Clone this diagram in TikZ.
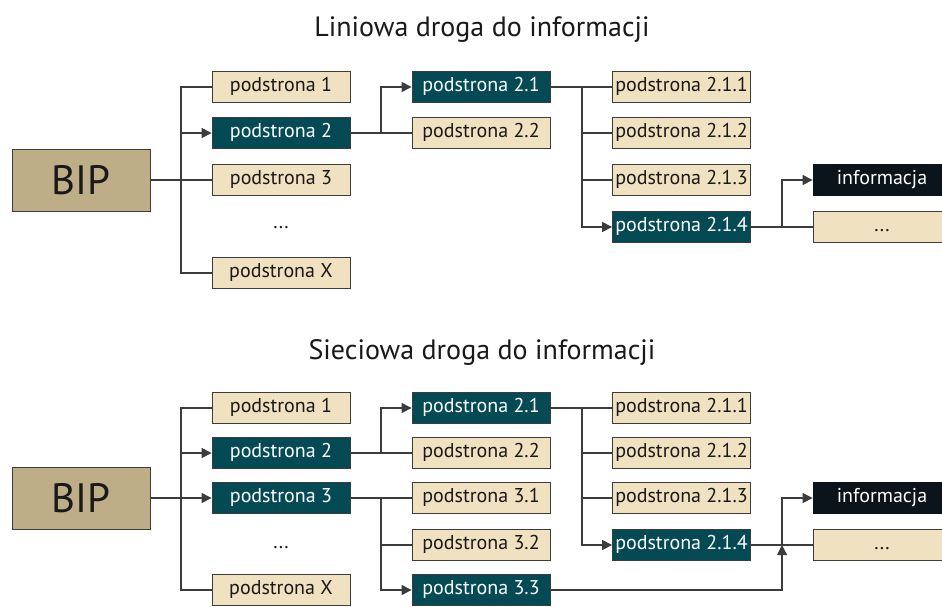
\documentclass[tikz,border=0pt]{standalone}
\usepackage{fontspec}
\setmainfont{PT Sans}
\usepackage{tikz}
\usetikzlibrary{arrows.meta,positioning,calc}
\definecolor{bipTan}{HTML}{BDAE87}
\definecolor{pageBeige}{HTML}{F0E1C0}
\definecolor{pageTeal}{HTML}{044A55}
\definecolor{infoBlack}{HTML}{0B131B}
\definecolor{lineGray}{HTML}{3C3C3C}

\begin{document}
\begin{tikzpicture}[x=1pt,y=-1pt,
  page/.style={draw=lineGray,line width=0.8pt,fill=pageBeige,text=black!90,
               minimum width=138pt,minimum height=31pt,inner sep=0pt,
               font=\fontsize{20}{22}\selectfont,text height=13.5pt,text depth=4pt},
  hub/.style={page,fill=pageTeal,text=white},
  info/.style={page,fill=infoBlack,draw=infoBlack,text=white},
  root/.style={draw=lineGray,line width=0.8pt,fill=bipTan,text=black!90,
               minimum width=138pt,minimum height=62pt,inner sep=0pt,
               font=\fontsize{41}{44}\selectfont},
  ttl/.style={font=\fontsize{28}{32}\selectfont,text=black!90},
  dots/.style={font=\fontsize{20}{22}\selectfont,text=black!90,text height=13.5pt,text depth=4pt},
  conn/.style={draw=lineGray,line width=1.1pt},
  arr/.style={conn,-{Triangle[length=10pt,width=10pt]}}]
\useasboundingbox (0,0) rectangle (942,606);

% --- liniowa ---
\node[ttl] (t1) at (482,30) {Liniowa droga do informacji};
\node[root] (bip) at (81,180) {BIP};
\node[page] (p1) at (281,87) {podstrona 1};
\node[hub]  (p2) at (281,133) {podstrona 2};
\node[page] (p3) at (281,180) {podstrona 3};
\node[dots] (pd) at (281,224) {...};
\node[page] (pX) at (281,273) {podstrona X};
\node[hub]  (q21) at (481,87) {podstrona 2.1};
\node[page] (q22) at (481,133) {podstrona 2.2};
\node[page] (r1) at (681.5,87) {podstrona 2.1.1};
\node[page] (r2) at (681.5,133) {podstrona 2.1.2};
\node[page] (r3) at (681.5,180) {podstrona 2.1.3};
\node[hub]  (r4) at (681.5,227) {podstrona 2.1.4};
\node[info] (inf) at (882,180) {informacja};
\node[page] (more) at (882,227) {...};
\coordinate (s1) at (181,180);
\coordinate (s2) at (381,133);
\coordinate (s3) at (582,87);
\coordinate (s4) at (782,227);

\draw[conn] (bip.east) -- (p3.west);
\draw[conn] (p1.west) -| (s1) |- (pX.west);
\draw[arr]  (s1 |- p2.west) -- (p2.west);
\draw[conn] (p2.east) -- (q22.west);
\draw[arr]  (s2) |- (q21.west);
\draw[conn] (q21.east) -- (r1.west);
\draw[conn] (s3 |- r2.west) -- (r2.west);
\draw[conn] (s3 |- r3.west) -- (r3.west);
\draw[arr]  (s3) |- (r4.west);
\draw[conn] (r4.east) -- (more.west);
\draw[arr]  (s4) |- (inf.west);

% --- sieciowa ---
\node[ttl] (t2) at (482,352) {Sieciowa droga do informacji};
\node[root] (bipB) at (81,498) {BIP};
\node[page] (pB1) at (281,408) {podstrona 1};
\node[hub]  (pB2) at (281,453) {podstrona 2};
\node[hub]  (pB3) at (281,498) {podstrona 3};
\node[dots] (pBd) at (281,544) {...};
\node[page] (pBX) at (281,590) {podstrona X};
\node[hub]  (qB21) at (481,408) {podstrona 2.1};
\node[page] (qB22) at (481,453) {podstrona 2.2};
\node[page] (qB31) at (481,498) {podstrona 3.1};
\node[page] (qB32) at (481,545) {podstrona 3.2};
\node[hub]  (qB33) at (481,590) {podstrona 3.3};
\node[page] (rB1) at (681.5,408) {podstrona 2.1.1};
\node[page] (rB2) at (681.5,453) {podstrona 2.1.2};
\node[page] (rB3) at (681.5,498) {podstrona 2.1.3};
\node[hub]  (rB4) at (681.5,545) {podstrona 2.1.4};
\node[info] (infB) at (882,498) {informacja};
\node[page] (moreB) at (882,545) {...};
\coordinate (sB1) at (181,498);
\coordinate (sB2) at (381,453);
\coordinate (sB2b) at (381,498);
\coordinate (sB3) at (582,408);
\coordinate (sB4) at (782,545);

\draw[arr]  (bipB.east) -- (pB3.west);
\draw[conn] (pB1.west) -| (sB1) |- (pBX.west);
\draw[arr]  (sB1 |- pB2.west) -- (pB2.west);
\draw[conn] (pB2.east) -- (qB22.west);
\draw[arr]  (sB2) |- (qB21.west);
\draw[conn] (pB3.east) -- (qB31.west);
\draw[conn] (sB2b |- qB32.west) -- (qB32.west);
\draw[arr]  (sB2b) |- (qB33.west);
\draw[conn] (qB21.east) -- (rB1.west);
\draw[conn] (sB3 |- rB2.west) -- (rB2.west);
\draw[conn] (sB3 |- rB3.west) -- (rB3.west);
\draw[arr]  (sB3) |- (rB4.west);
\draw[conn] (rB4.east) -- (moreB.west);
\draw[arr]  (sB4) |- (infB.west);
\draw[arr]  (qB33.east) -| (sB4);
\end{tikzpicture}
\end{document}
